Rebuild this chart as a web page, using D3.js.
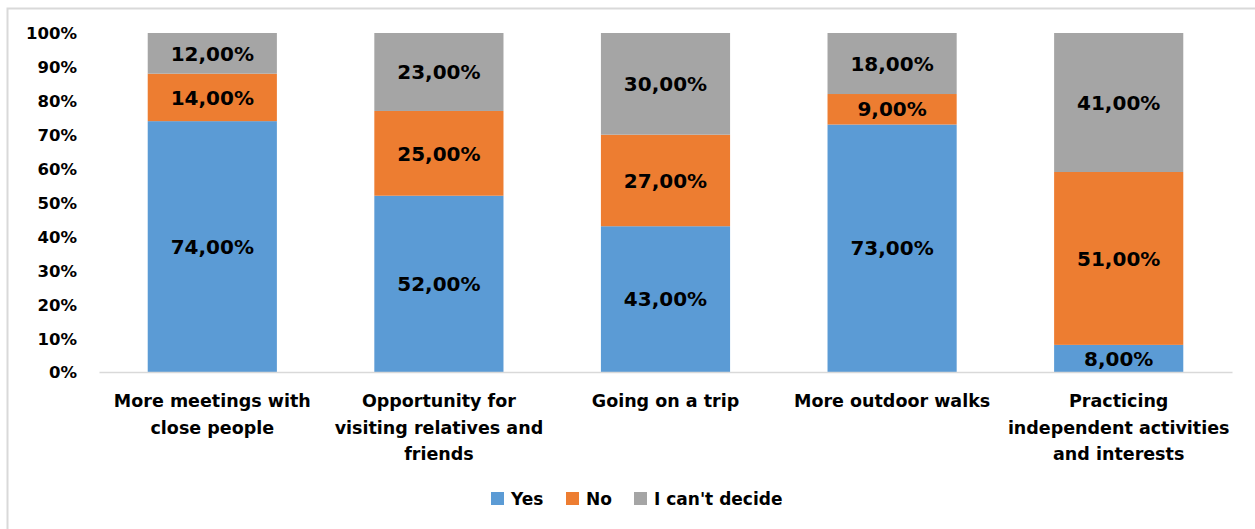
<!DOCTYPE html>
<html>
<head>
<meta charset="utf-8">
<script src="https://cdn.jsdelivr.net/npm/d3@7"></script>
<style>
  html, body { margin: 0; padding: 0; background: #fff; }
  svg { display: block; }
  text { font-family: "DejaVu Sans", sans-serif; font-weight: bold; fill: #000; }
</style>
</head>
<body>
<svg id="chart" width="1255" height="529"></svg>
<script>
// Survey answers per activity (percent)
const categories = [
  ["More meetings with", "close people"],
  ["Opportunity for", "visiting relatives and", "friends"],
  ["Going on a trip"],
  ["More outdoor walks"],
  ["Practicing", "independent activities", "and interests"]
];
const yes = [74, 52, 43, 73, 8];
const no = [14, 25, 27, 9, 51];
const cantDecide = [12, 23, 30, 18, 41];
const seriesNames = ["Yes", "No", "I can't decide"];
const seriesColors = ["#5B9BD5", "#ED7D31", "#A5A5A5"];
const yTicks = [0, 10, 20, 30, 40, 50, 60, 70, 80, 90, 100];

const svg = d3.select("#chart");

// outer chart frame
svg.append("rect")
  .attr("x", 7.5).attr("y", 8.5)
  .attr("width", 1270).attr("height", 540)
  .attr("fill", "none").attr("stroke", "#d9d9d9").attr("stroke-width", 2);

const plot = { left: 99, right: 1232, top: 33, bottom: 372 };

const x = d3.scaleBand()
  .domain(d3.range(categories.length))
  .range([plot.left, plot.right])
  .paddingInner(0.43)
  .paddingOuter(0.215);

const y = d3.scaleLinear().domain([0, 100]).range([plot.bottom, plot.top]);

const rows = categories.map((c, i) => ({ i, yes: yes[i], no: no[i], cant: cantDecide[i] }));
const stack = d3.stack().keys(["yes", "no", "cant"])(rows);

// y axis labels
const yAxis = d3.axisLeft(y).tickValues(yTicks).tickFormat(d => d + "%").tickSize(0).tickPadding(0);
const yg = svg.append("g").attr("transform", `translate(${plot.left - 22},0)`).call(yAxis);
yg.select(".domain").remove();
yg.selectAll("text").style("font-size", "16.5px").style("font-family", "DejaVu Sans").style("font-weight", "bold").attr("fill", "#000").attr("dy", "0.36em");

// stacked bars
const layers = svg.append("g").selectAll("g").data(stack).join("g")
  .attr("fill", (d, k) => seriesColors[k]);

layers.selectAll("rect").data(d => d).join("rect")
  .attr("x", d => x(d.data.i))
  .attr("width", x.bandwidth())
  .attr("y", d => y(d[1]))
  .attr("height", d => y(d[0]) - y(d[1]));

// value labels in segment centres
const fmt = v => v.toFixed(2).replace(".", ",") + "%";
layers.selectAll("text").data(d => d.map(p => ({ p, key: d.key }))).join("text")
  .attr("x", d => x(d.p.data.i) + x.bandwidth() / 2)
  .attr("y", d => y((d.p[0] + d.p[1]) / 2))
  .attr("dy", "0.36em")
  .attr("text-anchor", "middle")
  .style("font-size", "20px")
  .text(d => fmt(d.p[1] - d.p[0]));

// category axis
const xAxis = d3.axisBottom(x).tickSize(0).tickFormat("");
const xg = svg.append("g").attr("transform", `translate(0,${plot.bottom})`).call(xAxis);
xg.select(".domain").attr("stroke", "#d9d9d9").attr("stroke-width", 1.5);

const catLabels = svg.append("g").selectAll("text").data(categories).join("text")
  .attr("text-anchor", "middle")
  .attr("x", (d, i) => x(i) + x.bandwidth() / 2)
  .attr("y", 407)
  .style("font-size", "17.5px");
catLabels.selectAll("tspan").data(d => d).join("tspan")
  .attr("x", function () { return d3.select(this.parentNode).attr("x"); })
  .attr("dy", (d, j) => j === 0 ? 0 : 26.5)
  .text(d => d);

// legend
const legendX = [491, 566, 634];
const legend = svg.append("g").selectAll("g").data(seriesNames).join("g")
  .attr("transform", (d, k) => `translate(${legendX[k]},492)`);
legend.append("rect").attr("width", 13).attr("height", 13)
  .attr("fill", (d, k) => seriesColors[k]);
legend.append("text").attr("x", 20).attr("y", 7).attr("dy", "0.36em")
  .style("font-size", "17px").text(d => d);
</script>
</body>
</html>
